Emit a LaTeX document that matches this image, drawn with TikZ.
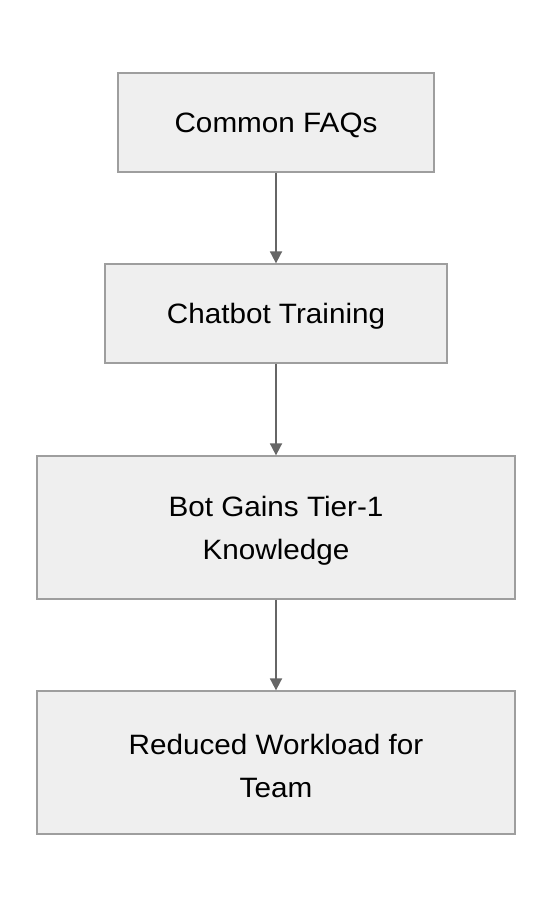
\documentclass[tikz,border=0pt]{standalone}
\usepackage{fontspec}
\setmainfont[FakeStretch=1.06]{Liberation Sans}
\usetikzlibrary{arrows.meta}
\definecolor{boxfill}{HTML}{EFEFEF}
\definecolor{boxline}{HTML}{9E9E9E}
\definecolor{arrowc}{HTML}{666666}
\begin{document}
\begin{tikzpicture}[x=1pt,y=-1pt,
  flowbox/.style={draw=boxline,fill=boxfill,line width=1.3pt,inner sep=0pt},
  flowtext/.style={inner sep=0pt,yshift=-3pt,font=\fontsize{28}{43}\selectfont,align=center},
  flowarrow/.style={draw=arrowc,line width=1.8pt,-{Triangle[length=12pt,width=12pt]}}]
\useasboundingbox (0,0) rectangle (552,908);
\node[flowbox,minimum width=316pt,minimum height=99pt] (a) at (276,122.5) {};
\node[flowtext] (at) at (a.center) {Common FAQs};
\node[flowbox,minimum width=342pt,minimum height=99pt] (b) at (276,313.5) {};
\node[flowtext] (bt) at (b.center) {Chatbot Training};
\node[flowbox,minimum width=478pt,minimum height=143pt] (c) at (276,527.5) {};
\node[flowtext] (ct) at (c.center) {Bot Gains Tier-1\\Knowledge};
\node[flowbox,minimum width=478pt,minimum height=143pt] (d) at (276,762.5) {};
\node[flowtext] (dt) at (d.center) {Reduced Workload for\\Team};
\draw[flowarrow] (a.south) -- (a.south |- b.north);
\draw[flowarrow] (b.south) -- (b.south |- c.north);
\draw[flowarrow] (c.south) -- (c.south |- d.north);
\end{tikzpicture}
\end{document}
